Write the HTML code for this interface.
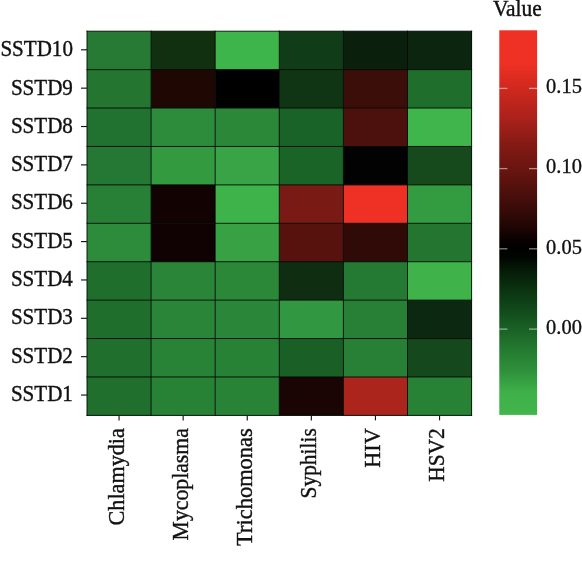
<!DOCTYPE html>
<html><head><meta charset="utf-8"><title>Heatmap</title>
<style>
html,body{margin:0;padding:0;background:#fff;}
body{width:582px;height:567px;overflow:hidden;}
svg{display:block;}
text{font-family:"Liberation Serif",serif;fill:#111;}
</style></head><body>
<svg width="582" height="567" viewBox="0 0 582 567">
<defs><linearGradient id="cb" x1="0" y1="0" x2="0" y2="1">
<stop offset="0" stop-color="#ee3124"/>
<stop offset="0.085" stop-color="#ee3124"/>
<stop offset="0.151" stop-color="#d0281e"/>
<stop offset="0.233" stop-color="#a8211a"/>
<stop offset="0.298" stop-color="#841a14"/>
<stop offset="0.36" stop-color="#6a1510"/>
<stop offset="0.428" stop-color="#4a0f0b"/>
<stop offset="0.493" stop-color="#2a0806"/>
<stop offset="0.545" stop-color="#0a0101"/>
<stop offset="0.568" stop-color="#000000"/>
<stop offset="0.59" stop-color="#010501"/>
<stop offset="0.623" stop-color="#051a07"/>
<stop offset="0.675" stop-color="#0b3310"/>
<stop offset="0.72" stop-color="#10461a"/>
<stop offset="0.766" stop-color="#185c23"/>
<stop offset="0.83" stop-color="#247a30"/>
<stop offset="0.885" stop-color="#2f903b"/>
<stop offset="0.94" stop-color="#3eb049"/>
<stop offset="1" stop-color="#41b64a"/>
</linearGradient></defs>
<rect x="0" y="0" width="582" height="567" fill="#ffffff"/>
<rect x="87.00" y="31.20" width="64.40" height="38.72" fill="#267a33"/>
<rect x="151.10" y="31.20" width="64.40" height="38.72" fill="#10300f"/>
<rect x="215.20" y="31.20" width="64.40" height="38.72" fill="#3db54a"/>
<rect x="279.30" y="31.20" width="64.40" height="38.72" fill="#103d17"/>
<rect x="343.40" y="31.20" width="64.40" height="38.72" fill="#0a1f0c"/>
<rect x="407.50" y="31.20" width="64.40" height="38.72" fill="#0c250e"/>
<rect x="87.00" y="69.62" width="64.40" height="38.72" fill="#237530"/>
<rect x="151.10" y="69.62" width="64.40" height="38.72" fill="#1f0804"/>
<rect x="215.20" y="69.62" width="64.40" height="38.72" fill="#000000"/>
<rect x="279.30" y="69.62" width="64.40" height="38.72" fill="#103514"/>
<rect x="343.40" y="69.62" width="64.40" height="38.72" fill="#3b0e0a"/>
<rect x="407.50" y="69.62" width="64.40" height="38.72" fill="#1f6e2c"/>
<rect x="87.00" y="108.04" width="64.40" height="38.72" fill="#217230"/>
<rect x="151.10" y="108.04" width="64.40" height="38.72" fill="#2d8c3b"/>
<rect x="215.20" y="108.04" width="64.40" height="38.72" fill="#2b8839"/>
<rect x="279.30" y="108.04" width="64.40" height="38.72" fill="#1a6328"/>
<rect x="343.40" y="108.04" width="64.40" height="38.72" fill="#4d110d"/>
<rect x="407.50" y="108.04" width="64.40" height="38.72" fill="#40b54b"/>
<rect x="87.00" y="146.46" width="64.40" height="38.72" fill="#247833"/>
<rect x="151.10" y="146.46" width="64.40" height="38.72" fill="#339a3f"/>
<rect x="215.20" y="146.46" width="64.40" height="38.72" fill="#38a445"/>
<rect x="279.30" y="146.46" width="64.40" height="38.72" fill="#1b6428"/>
<rect x="343.40" y="146.46" width="64.40" height="38.72" fill="#020202"/>
<rect x="407.50" y="146.46" width="64.40" height="38.72" fill="#164a1c"/>
<rect x="87.00" y="184.88" width="64.40" height="38.72" fill="#287f36"/>
<rect x="151.10" y="184.88" width="64.40" height="38.72" fill="#120302"/>
<rect x="215.20" y="184.88" width="64.40" height="38.72" fill="#3eb34a"/>
<rect x="279.30" y="184.88" width="64.40" height="38.72" fill="#7a1a15"/>
<rect x="343.40" y="184.88" width="64.40" height="38.72" fill="#ee3124"/>
<rect x="407.50" y="184.88" width="64.40" height="38.72" fill="#339b40"/>
<rect x="87.00" y="223.30" width="64.40" height="38.72" fill="#2d8c3b"/>
<rect x="151.10" y="223.30" width="64.40" height="38.72" fill="#100202"/>
<rect x="215.20" y="223.30" width="64.40" height="38.72" fill="#37a143"/>
<rect x="279.30" y="223.30" width="64.40" height="38.72" fill="#58120e"/>
<rect x="343.40" y="223.30" width="64.40" height="38.72" fill="#2f0a07"/>
<rect x="407.50" y="223.30" width="64.40" height="38.72" fill="#237530"/>
<rect x="87.00" y="261.72" width="64.40" height="38.72" fill="#1f6e2c"/>
<rect x="151.10" y="261.72" width="64.40" height="38.72" fill="#2a8538"/>
<rect x="215.20" y="261.72" width="64.40" height="38.72" fill="#2b8839"/>
<rect x="279.30" y="261.72" width="64.40" height="38.72" fill="#0f2e11"/>
<rect x="343.40" y="261.72" width="64.40" height="38.72" fill="#257a33"/>
<rect x="407.50" y="261.72" width="64.40" height="38.72" fill="#3fb34a"/>
<rect x="87.00" y="300.14" width="64.40" height="38.72" fill="#1f6e2c"/>
<rect x="151.10" y="300.14" width="64.40" height="38.72" fill="#2a8538"/>
<rect x="215.20" y="300.14" width="64.40" height="38.72" fill="#2a8638"/>
<rect x="279.30" y="300.14" width="64.40" height="38.72" fill="#319741"/>
<rect x="343.40" y="300.14" width="64.40" height="38.72" fill="#278035"/>
<rect x="407.50" y="300.14" width="64.40" height="38.72" fill="#0d2810"/>
<rect x="87.00" y="338.56" width="64.40" height="38.72" fill="#206f2d"/>
<rect x="151.10" y="338.56" width="64.40" height="38.72" fill="#298337"/>
<rect x="215.20" y="338.56" width="64.40" height="38.72" fill="#288236"/>
<rect x="279.30" y="338.56" width="64.40" height="38.72" fill="#1a5f26"/>
<rect x="343.40" y="338.56" width="64.40" height="38.72" fill="#278035"/>
<rect x="407.50" y="338.56" width="64.40" height="38.72" fill="#15481c"/>
<rect x="87.00" y="376.98" width="64.40" height="38.72" fill="#206f2d"/>
<rect x="151.10" y="376.98" width="64.40" height="38.72" fill="#288236"/>
<rect x="215.20" y="376.98" width="64.40" height="38.72" fill="#298337"/>
<rect x="279.30" y="376.98" width="64.40" height="38.72" fill="#1a0504"/>
<rect x="343.40" y="376.98" width="64.40" height="38.72" fill="#ab251c"/>
<rect x="407.50" y="376.98" width="64.40" height="38.72" fill="#288236"/>
<path d="M87.00 30.70V415.90M151.10 30.70V415.90M215.20 30.70V415.90M279.30 30.70V415.90M343.40 30.70V415.90M407.50 30.70V415.90M471.60 30.70V415.90M86.50 31.20H472.10M86.50 69.62H472.10M86.50 108.04H472.10M86.50 146.46H472.10M86.50 184.88H472.10M86.50 223.30H472.10M86.50 261.72H472.10M86.50 300.14H472.10M86.50 338.56H472.10M86.50 376.98H472.10M86.50 415.40H472.10" fill="none" stroke="#020a03" stroke-opacity="0.9" stroke-width="1"/>
<line x1="81.00" y1="49.80" x2="87.00" y2="49.80" stroke="#151515" stroke-width="1.15"/>
<text transform="translate(72.9,56.20) scale(0.957,1.03)" font-size="22" text-anchor="end" stroke="#111" stroke-width="0.38">SSTD10</text>
<line x1="81.00" y1="88.16" x2="87.00" y2="88.16" stroke="#151515" stroke-width="1.15"/>
<text transform="translate(72.9,94.50) scale(0.957,1.03)" font-size="22" text-anchor="end" stroke="#111" stroke-width="0.38">SSTD9</text>
<line x1="81.00" y1="126.52" x2="87.00" y2="126.52" stroke="#151515" stroke-width="1.15"/>
<text transform="translate(72.9,132.80) scale(0.957,1.03)" font-size="22" text-anchor="end" stroke="#111" stroke-width="0.38">SSTD8</text>
<line x1="81.00" y1="164.88" x2="87.00" y2="164.88" stroke="#151515" stroke-width="1.15"/>
<text transform="translate(72.9,171.10) scale(0.957,1.03)" font-size="22" text-anchor="end" stroke="#111" stroke-width="0.38">SSTD7</text>
<line x1="81.00" y1="203.24" x2="87.00" y2="203.24" stroke="#151515" stroke-width="1.15"/>
<text transform="translate(72.9,209.40) scale(0.957,1.03)" font-size="22" text-anchor="end" stroke="#111" stroke-width="0.38">SSTD6</text>
<line x1="81.00" y1="241.60" x2="87.00" y2="241.60" stroke="#151515" stroke-width="1.15"/>
<text transform="translate(72.9,247.70) scale(0.957,1.03)" font-size="22" text-anchor="end" stroke="#111" stroke-width="0.38">SSTD5</text>
<line x1="81.00" y1="279.96" x2="87.00" y2="279.96" stroke="#151515" stroke-width="1.15"/>
<text transform="translate(72.9,286.00) scale(0.957,1.03)" font-size="22" text-anchor="end" stroke="#111" stroke-width="0.38">SSTD4</text>
<line x1="81.00" y1="318.32" x2="87.00" y2="318.32" stroke="#151515" stroke-width="1.15"/>
<text transform="translate(72.9,324.30) scale(0.957,1.03)" font-size="22" text-anchor="end" stroke="#111" stroke-width="0.38">SSTD3</text>
<line x1="81.00" y1="356.68" x2="87.00" y2="356.68" stroke="#151515" stroke-width="1.15"/>
<text transform="translate(72.9,362.60) scale(0.957,1.03)" font-size="22" text-anchor="end" stroke="#111" stroke-width="0.38">SSTD2</text>
<line x1="81.00" y1="395.04" x2="87.00" y2="395.04" stroke="#151515" stroke-width="1.15"/>
<text transform="translate(72.9,400.90) scale(0.957,1.03)" font-size="22" text-anchor="end" stroke="#111" stroke-width="0.38">SSTD1</text>
<line x1="119.05" y1="415.40" x2="119.05" y2="420.40" stroke="#151515" stroke-width="1.15"/>
<text transform="translate(123.95,428.2) rotate(-90) scale(1.0080,1.04)" font-size="22" text-anchor="end" stroke="#111" stroke-width="0.38">Chlamydia</text>
<line x1="183.15" y1="415.40" x2="183.15" y2="420.40" stroke="#151515" stroke-width="1.15"/>
<text transform="translate(188.05,428.2) rotate(-90) scale(0.9880,1.04)" font-size="22" text-anchor="end" stroke="#111" stroke-width="0.38">Mycoplasma</text>
<line x1="247.25" y1="415.40" x2="247.25" y2="420.40" stroke="#151515" stroke-width="1.15"/>
<text transform="translate(252.15,428.2) rotate(-90) scale(1.0220,1.04)" font-size="22" text-anchor="end" stroke="#111" stroke-width="0.38">Trichomonas</text>
<line x1="311.35" y1="415.40" x2="311.35" y2="420.40" stroke="#151515" stroke-width="1.15"/>
<text transform="translate(316.25,428.2) rotate(-90) scale(0.9750,1.04)" font-size="22" text-anchor="end" stroke="#111" stroke-width="0.38">Syphilis</text>
<line x1="375.45" y1="415.40" x2="375.45" y2="420.40" stroke="#151515" stroke-width="1.15"/>
<text transform="translate(380.35,428.2) rotate(-90) scale(1.0120,1.04)" font-size="22" text-anchor="end" stroke="#111" stroke-width="0.38">HIV</text>
<line x1="439.55" y1="415.40" x2="439.55" y2="420.40" stroke="#151515" stroke-width="1.15"/>
<text transform="translate(444.45,428.2) rotate(-90) scale(0.9760,1.04)" font-size="22" text-anchor="end" stroke="#111" stroke-width="0.38">HSV2</text>
<rect x="499.3" y="30.3" width="37.8" height="384.6" fill="url(#cb)"/>
<line x1="499.3" y1="88.4" x2="507.4" y2="88.4" stroke="#ffffff" stroke-opacity="0.5" stroke-width="1.3"/>
<line x1="529" y1="88.4" x2="537.1" y2="88.4" stroke="#ffffff" stroke-opacity="0.5" stroke-width="1.3"/>
<text transform="translate(546.1,93.20) scale(0.93,0.985)" font-size="22" stroke="#111" stroke-width="0.38">0.15</text>
<line x1="499.3" y1="168.6" x2="507.4" y2="168.6" stroke="#ffffff" stroke-opacity="0.5" stroke-width="1.3"/>
<line x1="529" y1="168.6" x2="537.1" y2="168.6" stroke="#ffffff" stroke-opacity="0.5" stroke-width="1.3"/>
<text transform="translate(546.1,173.40) scale(0.93,0.985)" font-size="22" stroke="#111" stroke-width="0.38">0.10</text>
<line x1="499.3" y1="248.8" x2="507.4" y2="248.8" stroke="#ffffff" stroke-opacity="0.5" stroke-width="1.3"/>
<line x1="529" y1="248.8" x2="537.1" y2="248.8" stroke="#ffffff" stroke-opacity="0.5" stroke-width="1.3"/>
<text transform="translate(546.1,253.60) scale(0.93,0.985)" font-size="22" stroke="#111" stroke-width="0.38">0.05</text>
<line x1="499.3" y1="329.1" x2="507.4" y2="329.1" stroke="#ffffff" stroke-opacity="0.5" stroke-width="1.3"/>
<line x1="529" y1="329.1" x2="537.1" y2="329.1" stroke="#ffffff" stroke-opacity="0.5" stroke-width="1.3"/>
<text transform="translate(546.1,333.90) scale(0.93,0.985)" font-size="22" stroke="#111" stroke-width="0.38">0.00</text>
<text transform="translate(493.0,15.6) scale(0.975,1.03)" font-size="22" stroke="#111" stroke-width="0.38">Value</text>
</svg>
</body></html>
